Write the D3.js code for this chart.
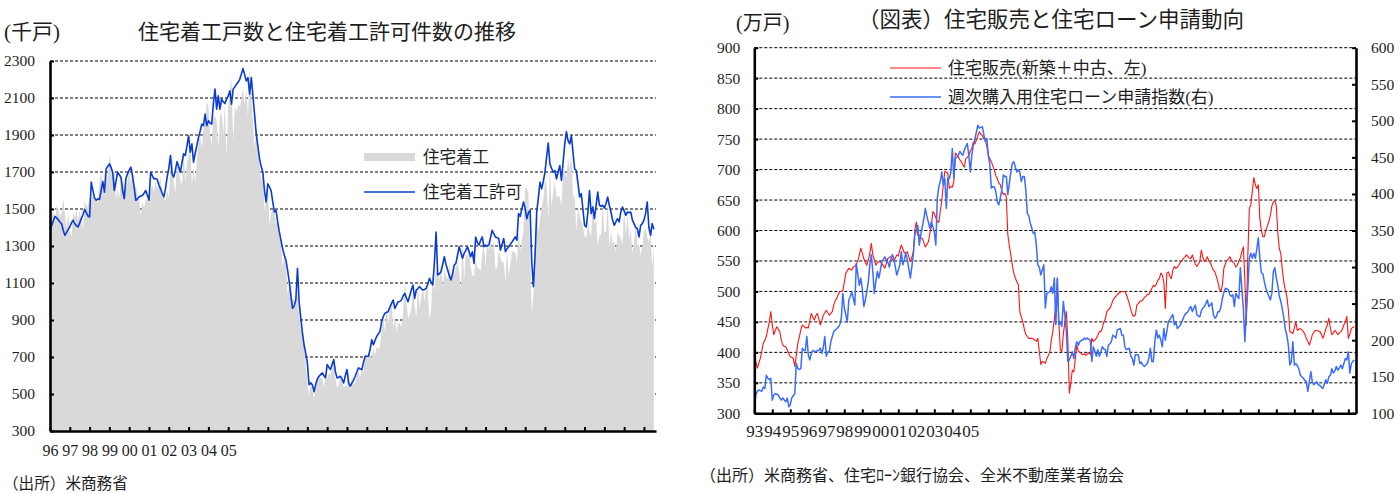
<!DOCTYPE html>
<html>
<head>
<meta charset="utf-8">
<script src="https://cdn.jsdelivr.net/npm/d3@7"></script>
<style>
  body { margin: 0; background: #fff; }
</style>
</head>
<body>
<svg id="chart" width="1398" height="494"></svg>
<script>
// ---------------- left chart data (monthly, from 1996) ----------------
var leftTickLabels = ['96', '97', '98', '99', '00', '01', '02', '03', '04', '05'];
var leftYTicks = [300, 500, 700, 900, 1100, 1300, 1500, 1700, 1900, 2100, 2300];

// 住宅着工 (thousand units, SAAR)
var housingStarts = [
  1431,
  1467, 1491, 1424, 1516, 1504, 1467, 1472, 1557, 1475, 1392, 1489, 1370,
  1355, 1486, 1457, 1492, 1442, 1494, 1437, 1390, 1546, 1520, 1510, 1566,
  1525, 1584, 1567, 1540, 1536, 1641, 1698, 1614, 1582, 1715, 1660, 1792,
  1748, 1670, 1710, 1553, 1611, 1559, 1669, 1648, 1635, 1608, 1648, 1708,
  1636, 1737, 1604, 1626, 1575, 1559, 1463, 1541, 1507, 1549, 1551, 1532,
  1600, 1625, 1590, 1649, 1605, 1636, 1670, 1567, 1562, 1540, 1602, 1568,
  1698, 1829, 1642, 1592, 1764, 1717, 1655, 1633, 1804, 1648, 1753, 1788,
  1853, 1629, 1726, 1643, 1751, 1867, 1897, 1833, 1939, 1967, 2083, 2057,
  1911, 1846, 1998, 2003, 1981, 1828, 2002, 2024, 1905, 2072, 1782, 2042,
  2144, 2207, 1864, 2061, 2025, 2068, 2054, 2095, 2151, 2065, 2147, 1994,
  2273, 2119, 1969, 1821, 1942, 1802, 1737, 1650, 1720, 1491, 1570, 1649,
  1409, 1480, 1495, 1490, 1415, 1448, 1354, 1330, 1183, 1264, 1197, 1037,
  1084, 1103, 1005, 1013, 973, 1046, 923, 844, 820, 777, 652, 560,
  490, 582, 505, 478, 540, 585, 594, 586, 585, 534, 588, 581,
  614, 604, 636, 687, 583, 536, 546, 599, 580, 534, 545, 539,
  630, 517, 600, 554, 561, 608, 623, 585, 650, 611, 719, 697,
  720, 709, 695, 753, 708, 757, 740, 754, 847, 915, 833, 976,
  888, 962, 1003, 853, 919, 835, 883, 883, 863, 936, 1105, 1003,
  909, 927, 961, 1052, 985, 909, 1095, 964, 1023, 1074, 1001, 1070,
  1061, 904, 960, 1152, 1054, 1184, 1146, 1117, 1198, 1075, 1179, 1137,
  1122, 1208, 1127, 1179, 1149, 1186, 1205, 1163, 1063, 1319, 1117, 1260,
  1240, 1302, 1181, 1142, 1135, 1229, 1181, 1179, 1163, 1264, 1303, 1193,
  1329, 1273, 1336, 1276, 1329, 1172, 1184, 1279, 1237, 1209, 1216, 1110,
  1291, 1142, 1198, 1269, 1271, 1265, 1212, 1383, 1274, 1328, 1388, 1612,
  1617, 1582, 1269, 934, 1038, 1273, 1497, 1376, 1448, 1514, 1551, 1661,
  1625, 1447, 1725, 1514, 1594, 1650, 1562, 1573, 1562, 1520, 1703, 1708,
  1666, 1777, 1716, 1803, 1562, 1575, 1377, 1508, 1463, 1432, 1401, 1357,
  1340, 1436, 1380, 1348, 1583, 1418, 1451, 1305, 1356, 1363, 1525, 1376,
  1376, 1546, 1299, 1377, 1315, 1329, 1262, 1379, 1355, 1344, 1305, 1515,
  1358, 1494, 1339, 1392, 1263, 1321, 1428, 1307, 1310, 1250, 1300, 1380,
  1400, 1350, 1320, 1380, 1190, 1300
];

// 住宅着工許可 (thousand units, SAAR)
var buildingPermits = [
  1394, 1410, 1435, 1460, 1452, 1442, 1430, 1420, 1385, 1358, 1372, 1390,
  1403, 1425, 1439, 1420, 1410, 1403, 1425, 1448, 1470, 1498, 1480, 1462,
  1457, 1645, 1600, 1560, 1547, 1555, 1552, 1600, 1649, 1591, 1717, 1730,
  1744, 1725, 1699, 1600, 1650, 1699, 1685, 1672, 1600, 1556, 1663, 1690,
  1710, 1726, 1680, 1618, 1547, 1555, 1565, 1570, 1573, 1585, 1600, 1575,
  1547, 1699, 1680, 1663, 1665, 1660, 1630, 1609, 1585, 1565, 1610, 1672,
  1720, 1789, 1690, 1672, 1710, 1756, 1730, 1699, 1750, 1798, 1789, 1840,
  1896, 1807, 1852, 1753, 1800, 1843, 1887, 1920, 1959, 1950, 2013, 1950,
  1977, 1965, 1959, 2067, 2148, 2040, 2112, 2040, 2094, 2080, 2070, 2094,
  2110, 2139, 2067, 2148, 2160, 2174, 2185, 2201, 2230, 2259, 2225, 2192,
  2210, 2121, 2210, 2112, 2010, 1905, 1840, 1771, 1730, 1699, 1600, 1538,
  1636, 1620, 1600, 1540, 1484, 1493, 1430, 1376, 1330, 1286, 1250, 1224,
  1170, 1107, 1030, 963, 975, 1008, 1179, 1000, 910, 830, 766, 720,
  667, 551, 560, 551, 512, 551, 580, 596, 605, 614, 600, 587,
  659, 645, 632, 660, 686, 620, 587, 590, 596, 580, 560, 600,
  632, 560, 542, 560, 575, 596, 620, 641, 635, 632, 670, 704,
  704, 704, 740, 793, 766, 790, 811, 825, 838, 890, 919, 937,
  940, 946, 970, 990, 1008, 963, 980, 999, 1000, 1008, 1030, 1044,
  1020, 999, 1030, 1062, 1089, 1017, 1062, 1070, 1080, 1070, 1062, 1065,
  1071, 1095, 1125, 1105, 1089, 1210, 1376, 1143, 1150, 1161, 1200, 1242,
  1200, 1170, 1140, 1116, 1150, 1197, 1206, 1250, 1296, 1265, 1233, 1260,
  1275, 1296, 1270, 1242, 1269, 1206, 1349, 1320, 1305, 1330, 1349, 1296,
  1305, 1300, 1305, 1345, 1385, 1365, 1349, 1345, 1340, 1278, 1310, 1340,
  1269, 1285, 1296, 1310, 1322, 1335, 1349, 1331, 1475, 1460, 1502, 1538,
  1500, 1448, 1480, 1493, 1215, 1080, 1251, 1484, 1560, 1645, 1609, 1650,
  1699, 1780, 1857, 1744, 1720, 1699, 1708, 1663, 1700, 1735, 1654, 1753,
  1852, 1918, 1870, 1852, 1896, 1807, 1717, 1708, 1640, 1565, 1583, 1500,
  1412, 1403, 1480, 1600, 1475, 1511, 1448, 1520, 1591, 1520, 1515, 1520,
  1505, 1530, 1565, 1520, 1484, 1440, 1412, 1430, 1448, 1430, 1484, 1511,
  1490, 1466, 1484, 1480, 1484, 1440, 1421, 1400, 1394, 1349, 1412, 1421,
  1440, 1475, 1538, 1400, 1358, 1421, 1390
];

// ---------------- right chart data (monthly, from 1993) ----------------
var rightTickLabels = ['93', '94', '95', '96', '97', '98', '99', '00', '01', '02', '03', '04', '05'];
var rightLeftTicks = [300, 350, 400, 450, 500, 550, 600, 650, 700, 750, 800, 850, 900];
var rightRightTicks = [100, 150, 200, 250, 300, 350, 400, 450, 500, 550, 600];

// 住宅販売(新築＋中古) 万戸, left axis
var homeSales = [
  396, 385, 374, 382, 390, 402, 415, 420, 426, 438, 450, 467,
  445, 429, 436, 442, 438, 434, 420, 412, 410, 409, 404, 398,
  393, 392, 390, 377, 395, 415, 425, 437, 445, 443, 440, 441,
  440, 452, 464, 458, 453, 460, 464, 455, 445, 452, 461, 465,
  469, 465, 461, 464, 467, 478, 485, 489, 495, 500, 500, 501,
  515, 530, 534, 538, 536, 535, 540, 541, 545, 549, 560, 571,
  563, 554, 548, 543, 552, 563, 579, 560, 552, 543, 547, 549,
  548, 546, 542, 538, 546, 554, 556, 557, 553, 549, 555, 560,
  558, 568, 576, 570, 563, 564, 565, 557, 549, 556, 565, 600,
  614, 592, 592, 588, 587, 580, 573, 577, 581, 595, 606, 631,
  628, 621, 615, 613, 632, 650, 675, 697, 696, 694, 669, 672,
  671, 680, 727, 724, 721, 716, 713, 708, 704, 718, 720, 723,
  730, 735, 745, 742, 748, 755, 762, 758, 756, 750, 748, 738,
  723, 718, 713, 706, 699, 690, 685, 678, 675, 665, 659, 661,
  655, 593, 575, 560, 543, 530, 522, 516, 511, 467, 458, 450,
  438, 429, 426, 423, 423, 423, 422, 420, 418, 423, 401, 380,
  385, 384, 382, 390, 395, 401, 420, 434, 455, 478, 521, 450,
  404, 401, 430, 450, 467, 420, 333, 350, 371, 368, 390, 412,
  402, 400, 398, 396, 398, 395, 397, 400, 396, 423, 418, 420,
  423, 428, 434, 434, 440, 450, 455, 467, 470, 472, 478, 485,
  489, 492, 495, 497, 499, 500, 500, 500, 495, 488, 480, 470,
  462, 459, 461, 478, 480, 484, 484, 486, 490, 492, 495, 495,
  500, 505, 510, 508, 512, 518, 521, 530, 527, 515, 472, 530,
  532, 525, 521, 535, 541, 538, 540, 543, 548, 550, 554, 556,
  560, 557, 555, 554, 560, 552, 545, 541, 545, 549, 568, 556,
  549, 552, 557, 550, 547, 541, 535, 532, 525, 516, 505, 500,
  510, 538, 545, 551, 553, 557, 552, 548, 546, 540, 543, 550,
  555, 565, 573, 520, 445, 560, 636, 642, 665, 687, 675, 669,
  675, 620, 600, 590, 590, 601, 607, 615, 625, 640, 647, 649,
  640, 595, 570, 562, 535, 515, 502, 492, 470, 434, 433, 431,
  440, 450, 436, 438, 439, 437, 434, 430, 423, 418, 412, 420,
  429, 433, 436, 436, 435, 434, 430, 423, 430, 439, 445, 456,
  440, 429, 432, 436, 433, 429, 432, 434, 438, 445, 450, 459,
  423, 430, 439, 441, 442
];

// 週次購入用住宅ローン申請指数, right axis
var purchaseIndex = [
  102, 125, 130, 132, 131, 130, 136, 134, 152, 148, 146, 148,
  118, 125, 127, 126, 125, 121, 118, 121, 118, 116, 121, 109,
  112, 121, 124, 127, 168, 161, 160, 161, 189, 186, 186, 205,
  180, 173, 182, 186, 185, 184, 186, 186, 189, 182, 190, 205,
  178, 184, 184, 198, 205, 212, 214, 216, 218, 221, 230, 264,
  244, 235, 225, 255, 260, 266, 257, 248, 305, 290, 275, 285,
  270, 246, 255, 266, 280, 303, 317, 294, 264, 280, 294, 285,
  295, 307, 310, 314, 310, 307, 300, 310, 317, 312, 300, 289,
  296, 303, 321, 303, 310, 319, 310, 298, 285, 300, 317, 344,
  350, 357, 330, 344, 355, 366, 380, 370, 362, 353, 362, 355,
  348, 330, 394, 410, 417, 430, 412, 421, 380, 421, 421, 430,
  462, 421, 449, 450, 453, 458, 455, 453, 460, 465, 469, 453,
  430, 453, 467, 475, 484, 494, 490, 491, 492, 481, 472, 476,
  453, 440, 408, 410, 410, 403, 389, 385, 395, 405, 426, 424,
  424, 399, 414, 430, 442, 444, 437, 430, 433, 430, 417, 424,
  424, 405, 373, 370, 360, 353, 346, 348, 330, 303, 300, 289,
  296, 303, 244, 264, 265, 266, 273, 264, 285, 221, 285, 221,
  225, 219, 253, 235, 212, 171, 173, 178, 184, 175, 190, 198,
  193, 198, 200, 200, 203, 201, 203, 201, 200, 171, 191, 185,
  178, 187, 178, 184, 191, 188, 187, 178, 193, 195, 198, 207,
  205, 203, 214, 215, 216, 207, 207, 191, 187, 188, 189, 178,
  175, 166, 180, 180, 180, 168, 170, 166, 164, 166, 168, 175,
  189, 171, 171, 198, 214, 203, 207, 200, 191, 216, 200, 212,
  225, 228, 232, 235, 221, 225, 216, 218, 221, 225, 230, 235,
  237, 239, 243, 246, 239, 244, 248, 235, 233, 232, 240, 244,
  246, 250, 255, 246, 248, 251, 235, 230, 232, 239, 239, 245,
  257, 265, 271, 270, 269, 262, 260, 262, 246, 264, 260, 257,
  299, 270, 244, 198, 240, 271, 312, 319, 312, 319, 312, 325,
  340, 312, 292, 291, 280, 271, 265, 260, 255, 264, 294, 299,
  285, 275, 260, 253, 242, 230, 215, 207, 193, 166, 171, 198,
  166, 168, 165, 161, 152, 150, 148, 145, 143, 130, 143, 157,
  143, 139, 141, 143, 139, 138, 136, 134, 140, 146, 141, 150,
  152, 161, 155, 158, 164, 159, 162, 166, 161, 168, 175, 173,
  184, 155, 168, 171, 173
];

var NUM_FONT = "'Liberation Serif', 'Times New Roman', serif";
var JP_FONT = "'Liberation Serif', 'Noto Sans CJK JP', sans-serif";
var TEXT_COLOR = '#1e1e1e';

var svg = d3.select('#chart');

function addText(g, str, x, y, size, anchor) {
  return g.append('text')
    .attr('x', x).attr('y', y)
    .attr('font-family', JP_FONT)
    .attr('font-size', size)
    .attr('text-anchor', anchor || 'start')
    .attr('fill', TEXT_COLOR)
    .text(str);
}

function styleAxis(g) {
  g.attr('font-family', null).attr('font-size', null);
  g.select('.domain').attr('stroke', '#000').attr('stroke-width', 2.6);
  g.selectAll('.tick line').attr('stroke', '#000').attr('stroke-width', 2);
  g.selectAll('.tick text')
    .attr('font-family', NUM_FONT)
    .attr('fill', TEXT_COLOR);
}

function gridLines(g, values, scale, x1, x2) {
  g.append('g').selectAll('line').data(values).join('line')
    .attr('x1', x1).attr('x2', x2)
    .attr('y1', function(d) { return scale(d); })
    .attr('y2', function(d) { return scale(d); })
    .attr('stroke', '#000')
    .attr('stroke-width', 1)
    .attr('stroke-dasharray', '3,2');
}

// ================= left chart =================
var left = svg.append('g');
var xL = d3.scaleLinear().domain([0, 367.3]).range([50, 656]);
var yL = d3.scaleLinear().domain([300, 2300]).range([431, 61]);

addText(left, '(千戸)', 4, 39, 21);
addText(left, '住宅着工戸数と住宅着工許可件数の推移', 138, 39, 21);

gridLines(left, leftYTicks.slice(1), yL, 50, 656);

left.append('path').datum(housingStarts)
  .attr('fill', '#d9d9d9')
  .attr('d', d3.area()
    .x(function(d, i) { return xL(i); })
    .y0(yL(300))
    .y1(function(d) { return yL(d); }));

left.append('path').datum(buildingPermits)
  .attr('fill', 'none')
  .attr('stroke', '#0a3cd2')
  .attr('stroke-width', 1.6)
  .attr('stroke-linejoin', 'round')
  .attr('d', d3.line()
    .x(function(d, i) { return xL(i); })
    .y(function(d) { return yL(d); }));

var axL = left.append('g').attr('transform', 'translate(50,0)')
  .call(d3.axisLeft(yL).tickValues(leftYTicks).tickFormat(d3.format('d'))
    .tickSize(-4).tickSizeOuter(0).tickPadding(15));
styleAxis(axL);
axL.selectAll('.tick text').attr('font-size', 15.5);

var axLB = left.append('g').attr('transform', 'translate(0,431)')
  .call(d3.axisBottom(xL).tickValues(d3.range(0, 361, 12)).tickSize(-4).tickSizeOuter(0)
    .tickFormat(function(d, i) { return leftTickLabels[i] || ''; }));
styleAxis(axLB);
axLB.selectAll('.tick text').attr('font-size', 16).attr('y', 25).attr('dy', 0);

// legend
left.append('rect').attr('x', 364).attr('y', 153).attr('width', 51).attr('height', 8).attr('fill', '#d9d9d9');
addText(left, '住宅着工', 423, 163, 16.5);
left.append('line').attr('x1', 364).attr('x2', 415).attr('y1', 192).attr('y2', 192)
  .attr('stroke', '#0a3cd2').attr('stroke-width', 1.6);
addText(left, '住宅着工許可', 423, 198, 16.5);

addText(left, '（出所）米商務省', 3, 489, 15.6);

// ================= right chart =================
var right = svg.append('g');
var xR = d3.scaleLinear().domain([0, 401.1]).range([754.3, 1356]);
var yRL = d3.scaleLinear().domain([300, 900]).range([413.3, 47.7]);
var yRR = d3.scaleLinear().domain([100, 600]).range([413.3, 47.7]);

addText(right, '(万戸)', 736, 30, 20);
addText(right, '（図表）住宅販売と住宅ローン申請動向', 858, 27, 21.5);

gridLines(right, rightLeftTicks.slice(1), yRL, 754.3, 1356);

right.append('path').datum(homeSales)
  .attr('fill', 'none')
  .attr('stroke', '#ff1414')
  .attr('stroke-width', 1.1)
  .attr('stroke-linejoin', 'round')
  .attr('d', d3.line()
    .x(function(d, i) { return xR(i); })
    .y(function(d) { return yRL(d); }));

right.append('path').datum(purchaseIndex)
  .attr('fill', 'none')
  .attr('stroke', '#3a6cff')
  .attr('stroke-width', 1.5)
  .attr('stroke-linejoin', 'round')
  .attr('d', d3.line()
    .x(function(d, i) { return xR(i); })
    .y(function(d) { return yRR(d); }));

var axRL = right.append('g').attr('transform', 'translate(754.3,0)')
  .call(d3.axisLeft(yRL).tickValues(rightLeftTicks).tickFormat(d3.format('d'))
    .tickSize(-4).tickSizeOuter(0).tickPadding(14));
styleAxis(axRL);
axRL.selectAll('.tick text').attr('font-size', 15.5);

var axRR = right.append('g').attr('transform', 'translate(1356,0)')
  .call(d3.axisRight(yRR).tickValues(rightRightTicks).tickFormat(d3.format('d'))
    .tickSize(-4).tickSizeOuter(0).tickPadding(15));
styleAxis(axRR);
axRR.selectAll('.tick text').attr('font-size', 15.5);

var axRB = right.append('g').attr('transform', 'translate(0,413.3)')
  .call(d3.axisBottom(xR).tickValues(d3.range(0, 397, 12)).tickSize(-4).tickSizeOuter(0)
    .tickFormat(function(d, i) { return rightTickLabels[i] || ''; }));
styleAxis(axRB);
axRB.selectAll('.tick text').attr('font-size', 17).attr('y', 24).attr('dy', 0);

// legend
right.append('line').attr('x1', 890).attr('x2', 941).attr('y1', 68).attr('y2', 68)
  .attr('stroke', '#ff1414').attr('stroke-width', 1.1);
addText(right, '住宅販売(新築＋中古、左)', 948, 74, 17);
right.append('line').attr('x1', 890).attr('x2', 941).attr('y1', 97).attr('y2', 97)
  .attr('stroke', '#3a6cff').attr('stroke-width', 1.5);
addText(right, '週次購入用住宅ローン申請指数(右)', 948, 103, 17);

addText(right, '（出所）米商務省、住宅ﾛｰﾝ銀行協会、全米不動産業者協会', 700, 481, 16);
</script>
</body>
</html>
